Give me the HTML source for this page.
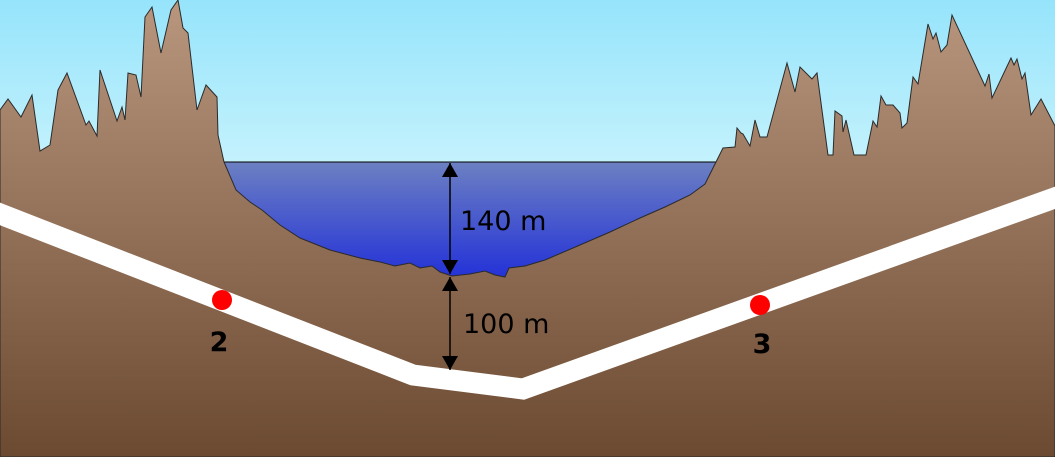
<!DOCTYPE html>
<html><head><meta charset="utf-8"><style>
html,body{margin:0;padding:0;width:1055px;height:457px;overflow:hidden}
svg{display:block}
</style></head><body>
<svg width="1055" height="457" viewBox="0 0 1055 457" xmlns="http://www.w3.org/2000/svg">
<defs>
<linearGradient id="sky" x1="0" y1="0" x2="0" y2="1"><stop offset="0" stop-color="#96e4fb"/><stop offset="1" stop-color="#c4f2fd"/></linearGradient>
<linearGradient id="gr" x1="0" y1="0" x2="0" y2="1"><stop offset="0" stop-color="#b9977f"/><stop offset="1" stop-color="#6b4a31"/></linearGradient>
<linearGradient id="wa" x1="0" y1="0" x2="0" y2="1"><stop offset="0" stop-color="#6c80c2"/><stop offset="1" stop-color="#2230d8"/></linearGradient>
<marker id="ah" markerWidth="14" markerHeight="16" refX="14" refY="8" orient="auto-start-reverse" markerUnits="userSpaceOnUse"><path d="M0,0 L14,8 L0,16 z" fill="#000"/></marker>
</defs>
<rect width="1055" height="163" fill="url(#sky)"/>
<path d="M222,162 L722,162 L722,280 L222,280 z" fill="url(#wa)" stroke="#000" stroke-width="1"/>
<path d="M0,110 L8,99 L21,117 L32,95 L40,151 L50,145 L58,90 L67,73 L86,125 L89,121 L97,136 L100,70 L117,121 L122,107 L125,120 L128,73 L136,75 L141,97 L145,17 L152,7 L161,53 L171,10 L178,0 L183,28 L188,33 L197,110 L206,85 L217,97 L218,135 L224,162 L236,190 L250,202 L262,210 L280,225 L300,238 L330,250 L360,258 L380,262 L395,266 L410,263 L420,268 L432,266 L440,272 L452,276 L470,274 L485,271 L495,275 L505,277 L509,268 L525,266 L545,260 L580,245 L610,232 L640,218 L665,207 L690,195 L705,184 L712,170 L723,148 L735,147 L737,128 L741,133 L743,134 L750,146 L755,120 L760,137 L767,137 L787,63 L795,92 L800,67 L812,79 L817,73 L828,155 L833,155 L835,111 L842,116 L843,132 L846,120 L854,155 L866,155 L873,121 L877,127 L881,96 L886,105 L893,105 L900,113 L902,128 L907,123 L913,77 L918,84 L928,24 L933,39 L936,33 L941,52 L947,45 L952,15 L985,86 L989,74 L992,98 L1011,58 L1014,65 L1017,59 L1022,79 L1025,73 L1031,115 L1041,99 L1055,126 L1055,457 L0,457 z" fill="url(#gr)" stroke="#2a2a2a" stroke-width="1"/>
<polyline points="-5,212 413,375 523,389 1060,196" fill="none" stroke="#fff" stroke-width="21" stroke-linejoin="miter"/>
<line x1="450" y1="163" x2="450" y2="274" stroke="#000" stroke-width="1.5" marker-start="url(#ah)" marker-end="url(#ah)"/>
<line x1="450" y1="277" x2="450" y2="370" stroke="#000" stroke-width="1.5" marker-start="url(#ah)" marker-end="url(#ah)"/>
<text x="460" y="230" font-family="DejaVu Sans, Liberation Sans, sans-serif" font-size="27" fill="#000">140 m</text>
<text x="463" y="333" font-family="DejaVu Sans, Liberation Sans, sans-serif" font-size="27" fill="#000">100 m</text>
<circle cx="222" cy="300" r="10" fill="#ff0000"/>
<circle cx="760" cy="305" r="10" fill="#ff0000"/>
<text x="219" y="351" text-anchor="middle" font-family="DejaVu Sans, Liberation Sans, sans-serif" font-weight="bold" font-size="27" fill="#000">2</text>
<text x="762" y="353" text-anchor="middle" font-family="DejaVu Sans, Liberation Sans, sans-serif" font-weight="bold" font-size="27" fill="#000">3</text>
</svg>
</body></html>
